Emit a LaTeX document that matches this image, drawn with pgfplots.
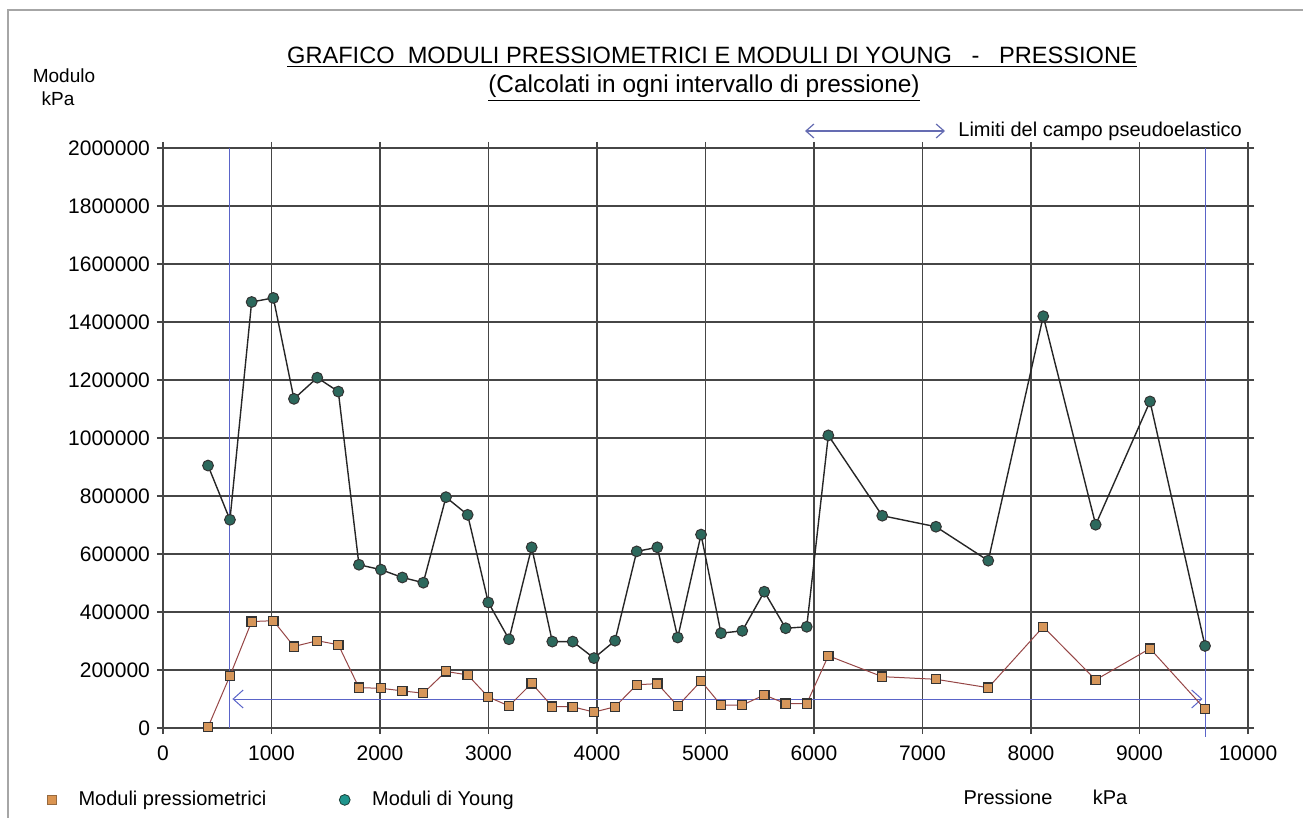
\documentclass[border=0pt]{standalone}
\usepackage{fontspec}
\setmainfont{Liberation Sans}
\usepackage{pgfplots}
\pgfplotsset{compat=1.18}
\usetikzlibrary{arrows.meta}
\definecolor{sqfill}{RGB}{214,150,90}
\definecolor{sqline}{RGB}{150,70,70}
\definecolor{teal2}{RGB}{44,104,92}
\definecolor{bluel}{RGB}{90,100,200}
\definecolor{gridc}{RGB}{70,70,70}
\begin{document}
\begin{tikzpicture}
\begin{scope}[x=0.5pt,y=-0.5pt]
\useasboundingbox (0,0) rectangle (1303,818);
\draw[black!35,line width=0.6pt] (8,818) -- (8,10) -- (1303,10);
\node[font=\fontsize{11.8}{13}\selectfont] at (712,57) {\underline{GRAFICO\ \ MODULI PRESSIOMETRICI E MODULI DI YOUNG\ \ \ -\ \ \ PRESSIONE}};
\node[font=\fontsize{12.2}{13}\selectfont] at (704,88) {\underline{(Calcolati in ogni intervallo di pressione)}};
\node[font=\fontsize{9.5}{11}\selectfont] at (64,76) {Modulo};
\node[font=\fontsize{9.5}{11}\selectfont] at (58,99) {kPa};
\draw[{Straight Barb[length=4pt,width=7pt]}-{Straight Barb[length=4pt,width=7pt]},color=bluel!70!gray,line width=0.6pt] (805,131) -- (945,131);
\node[anchor=west,font=\fontsize{10}{12}\selectfont,inner sep=0pt] at (958,131) {Limiti del campo pseudoelastico};
\node[font=\fontsize{10}{12}\selectfont] at (1008,797) {Pressione};
\node[font=\fontsize{10}{12}\selectfont] at (1110,797) {kPa};
\end{scope}
\begin{axis}[
  at={(81.5pt,-364pt)}, anchor=south west,
  scale only axis, width=542.5pt, height=290pt,
  xmin=0, xmax=10000, ymin=0, ymax=2000000,
  xtick={0,1000,...,10000}, ytick={0,200000,...,2000000},
  scaled ticks=false,
  /pgf/number format/.cd, fixed, 1000 sep={}, assume math mode=true, /pgfplots/.cd,
  grid=major,
  grid style={gridc, line width=0.7pt},
  axis line style={gridc, line width=0.7pt},
  tick style={gridc, line width=0.7pt},
  tick align=outside, major tick length=3pt,
  ticklabel style={font=\fontsize{10.5}{12}\selectfont},
  xticklabel style={yshift=-2.5pt},
  clip=false,
  legend style={at={(-0.107,-0.124)}, anchor=west, draw=none, fill=none, inner sep=0pt,
    legend columns=2, font=\fontsize{10}{12}\selectfont,
    /tikz/every odd column/.append style={column sep=9pt},
    /tikz/every even column/.append style={column sep=34.5pt}},
]
\addplot[bluel, line width=0.5pt, forget plot] coordinates {(617,0) (617,2000000)};
\addplot[bluel, line width=0.5pt, forget plot] coordinates {(9604,-30000) (9604,2000000)};
\addplot[bluel, line width=0.5pt, {Straight Barb[length=5pt,width=9pt]}-{Straight Barb[length=5pt,width=9pt]}, forget plot] coordinates {(640,100000) (9580,100000)};

\addplot[sqline, line width=0.5pt, mark=square*, mark size=2.3pt,
  mark options={fill=sqfill, draw=black!80, line width=0.6pt}, forget plot] coordinates {
(415,3000) (617,180000) (817,367000) (1017,370000) (1207,281000) (1422,301000)
(1616,287000) (1806,139000) (2009,137000) (2206,128000) (2399,120000) (2608,195000)
(2808,183000) (2998,107000) (3189,76000) (3398,154000) (3588,74000) (3776,73000)
(3972,55000) (4166,73000) (4366,149000) (4556,153000) (4744,76000) (4959,162000)
(5143,79000) (5339,79000) (5542,114000) (5739,84000) (5933,84000) (6132,249000)
(6629,177000) (7124,168000) (7606,139000) (8113,349000) (8596,166000) (9097,274000)
(9604,65000)};

\addplot[black!85, line width=0.7pt, mark=*, mark size=2.7pt,
  mark options={fill=teal2, draw=black!80, line width=0.5pt}, forget plot] coordinates {
(415,905000) (617,718000) (817,1469000) (1017,1483000) (1207,1135000) (1422,1208000)
(1616,1160000) (1806,563000) (2009,546000) (2206,519000) (2399,501000) (2608,796000)
(2808,735000) (2998,433000) (3189,306000) (3398,623000) (3588,298000) (3776,298000)
(3972,241000) (4166,301000) (4366,609000) (4556,623000) (4744,312000) (4959,667000)
(5143,327000) (5339,335000) (5542,470000) (5739,344000) (5933,349000) (6132,1009000)
(6629,732000) (7124,694000) (7606,577000) (8113,1420000) (8596,701000) (9097,1126000)
(9604,283000)};

\addlegendimage{only marks, mark=square*, mark size=2.3pt, mark options={fill=sqfill!90!orange, draw=sqfill!70!black, line width=0.4pt}}
\addlegendentry{Moduli pressiometrici}
\addlegendimage{only marks, mark=*, mark size=2.7pt, mark options={fill=teal2!70!cyan, draw=teal2!60!black, line width=0.4pt}}
\addlegendentry{Moduli di Young}
\end{axis}
\end{tikzpicture}
\end{document}
